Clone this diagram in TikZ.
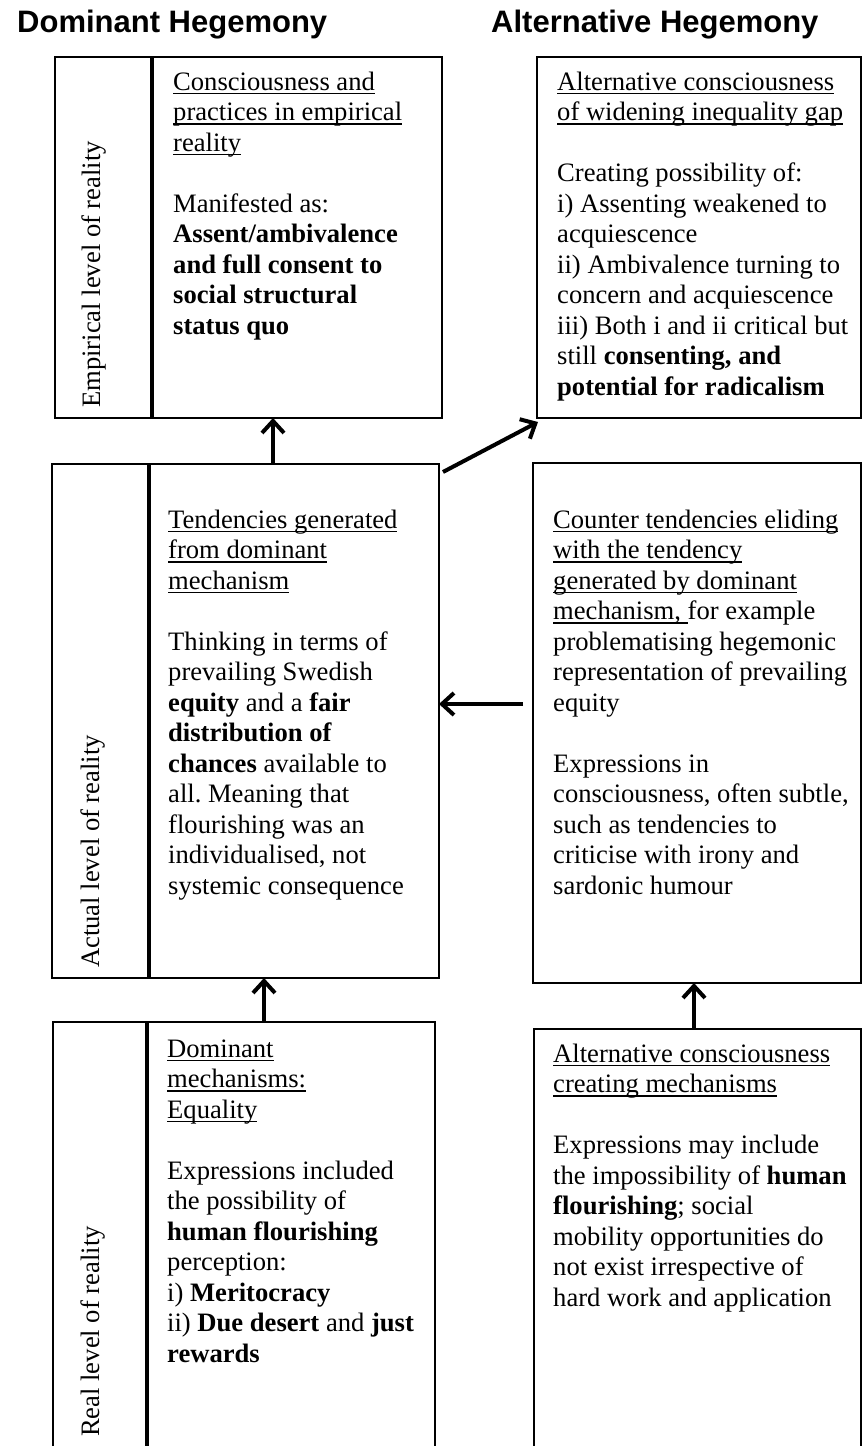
\documentclass[tikz,border=0pt]{standalone}
\usepackage{fontspec}
\setmainfont{Liberation Serif}
\newfontfamily\titlefont{Liberation Sans}
\usetikzlibrary{arrows.meta,calc}
\frenchspacing
\newcommand{\myul}[1]{\leavevmode\setbox0\hbox{#1}\rlap{\rule[-4.2pt]{\wd0}{1.3pt}}\box0}
\newcommand{\bodyfont}{\fontsize{26.6pt}{30.5pt}\selectfont}
\newcommand{\gap}{\\[30.5pt]}
\begin{document}
\begin{tikzpicture}[x=1pt,y=-1pt,
  frame/.style={draw, line width=1.6pt, inner sep=0pt, outer sep=0pt, anchor=north west},
  body/.style={anchor=base west, inner sep=0pt, text width=330pt, align=flush left, font=\bodyfont},
  side/.style={anchor=base west, inner sep=0pt, rotate=90, font=\bodyfont},
  head/.style={anchor=base west, inner sep=0pt, font=\titlefont\bfseries\fontsize{31pt}{36pt}\selectfont},
  arr/.style={line width=4pt, -{Straight Barb[length=12pt,width=22pt]}}]
\useasboundingbox[fill=white] (0,0) rectangle (862,1446);

\node[head] (h1) at (17,32) {Dominant Hegemony};
\node[head] (h2) at (491,32) {Alternative Hegemony};

% Empirical level
\node[frame, minimum width=96pt, minimum height=361pt] (l1) at (55,57) {};
\node[frame, minimum width=289pt, minimum height=361pt] (b1) at (153,57) {};
\node[side] (s1) at (100,408) {Empirical level of reality};
\node[body] (t1) at (173,90) {\myul{Consciousness and}\\ \myul{practices in empirical}\\ \myul{reality}\gap Manifested as:\\ \textbf{Assent/ambivalence}\\ \textbf{and full consent to}\\ \textbf{social structural}\\ \textbf{status quo}};

\node[frame, minimum width=324pt, minimum height=361pt] (b2) at (537,57) {};
\node[body] (t2) at (557,90) {\myul{Alternative consciousness}\\ \myul{of widening inequality gap}\gap Creating possibility of:\\ i) Assenting weakened to\\ acquiescence\\ ii) Ambivalence turning to\\ concern and acquiescence\\ iii) Both i and ii critical but\\ still \textbf{consenting, and}\\ \textbf{potential for radicalism}};

% Actual level
\node[frame, minimum width=96pt, minimum height=514pt] (l3) at (52,464) {};
\node[frame, minimum width=289pt, minimum height=514pt] (b3) at (150,464) {};
\node[side] (s3) at (99,968) {Actual level of reality};
\node[body] (t3) at (168,528) {\myul{Tendencies generated}\\ \myul{from dominant}\\ \myul{mechanism}\gap Thinking in terms of\\ prevailing Swedish\\ \textbf{equity} and a \textbf{fair}\\ \textbf{distribution of}\\ \textbf{chances} available to\\ all. Meaning that\\ flourishing was an\\ individualised, not\\ systemic consequence};

\node[frame, minimum width=328pt, minimum height=520pt] (b4) at (533,463) {};
\node[body] (t4) at (553,528) {\myul{Counter tendencies eliding}\\ \myul{with the tendency}\\ \myul{generated by dominant}\\ \myul{mechanism,\ }for example\\ problematising hegemonic\\ representation of prevailing\\ equity\gap Expressions in\\ consciousness, often subtle,\\ such as tendencies to\\ criticise with irony and\\ sardonic humour};

% Real level
\node[frame, minimum width=93pt, minimum height=440pt] (l5) at (53,1022) {};
\node[frame, minimum width=287pt, minimum height=440pt] (b5) at (148,1022) {};
\node[side] (s5) at (99,1437) {Real level of reality};
\node[body] (t5) at (167,1057) {\myul{Dominant}\\ \myul{mechanisms:}\\ \myul{Equality}\gap Expressions included\\ the possibility of\\ \textbf{human flourishing}\\ perception:\\ i) \textbf{Meritocracy}\\ ii) \textbf{Due desert} and \textbf{just}\\ \textbf{rewards}};

\node[frame, minimum width=327pt, minimum height=440pt] (b6) at (534,1029) {};
\node[body] (t6) at (553,1062) {\myul{Alternative consciousness}\\ \myul{creating mechanisms}\gap Expressions may include\\ the impossibility of \textbf{human}\\ \textbf{flourishing}; social\\ mobility opportunities do\\ not exist irrespective of\\ hard work and application};

% Arrows
\coordinate (x1) at (273,0);
\coordinate (x5) at (264,0);
\coordinate (x6) at (694,0);
\coordinate (y4) at (0,704);
\draw[arr] (b3.north -| x1) -- (b1.south -| x1);
\draw[arr] ($(b3.north east)+(4,8)$) -- ($(b2.south west)+(1,4)$);
\draw[arr] ($(b4.west |- y4)+(-10,0)$) -- (b3.east |- y4);
\draw[arr] (b5.north -| x5) -- (b3.south -| x5);
\draw[arr] (b6.north -| x6) -- (b4.south -| x6);
\end{tikzpicture}
\end{document}
